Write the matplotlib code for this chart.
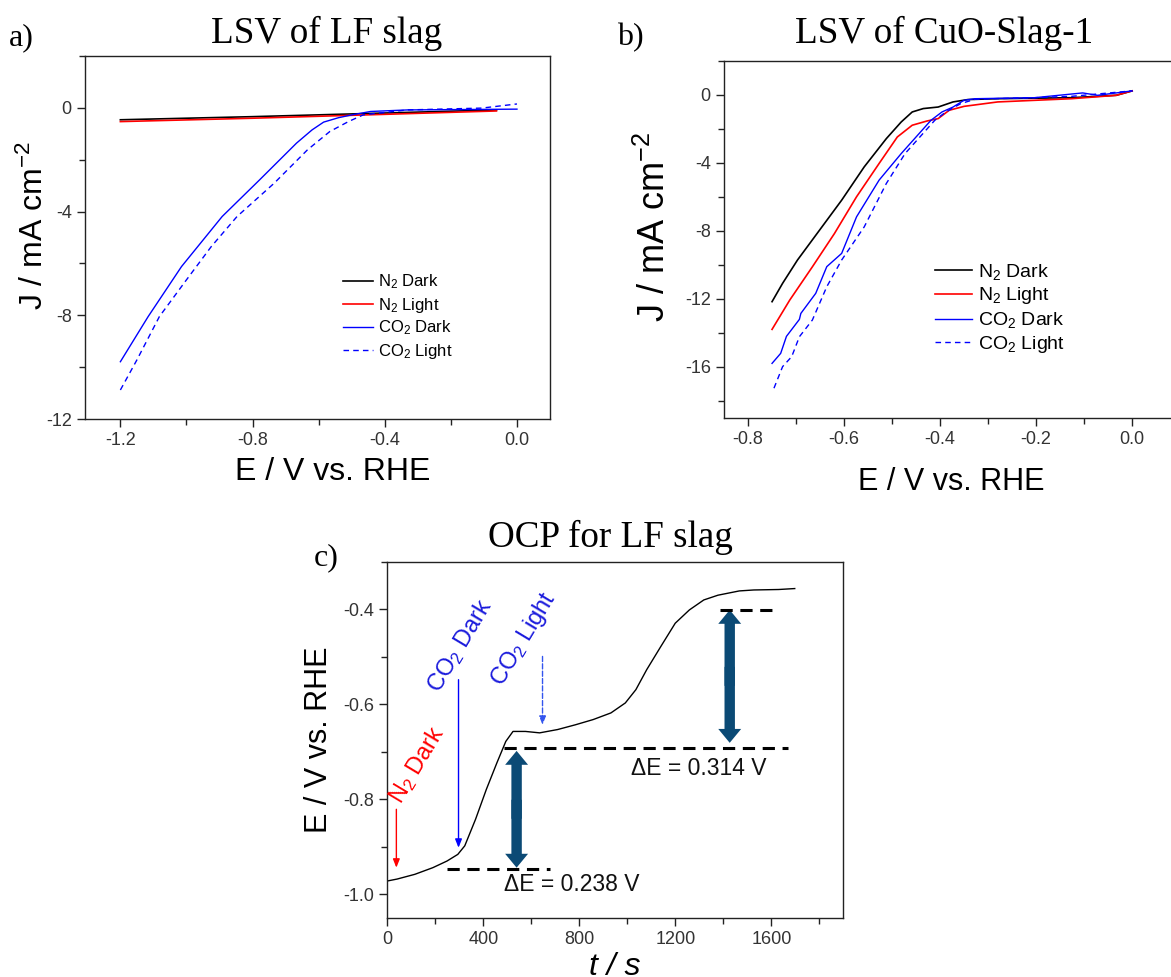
import matplotlib
matplotlib.use("Agg")
import matplotlib.pyplot as plt
from matplotlib.ticker import MultipleLocator
from matplotlib.patches import FancyArrowPatch

plt.rcParams['font.family'] = ['Liberation Sans', 'DejaVu Sans']
plt.rcParams['mathtext.default'] = 'regular'

# ---- panel a: LSV of LF slag ----
a_n2_dark_E = [-1.2, -0.8, -0.4, -0.062]
a_n2_dark_J = [-0.46, -0.34, -0.2, -0.08]
a_n2_light_E = [-1.2, -0.8, -0.4, -0.062]
a_n2_light_J = [-0.53, -0.4, -0.25, -0.12]
a_co2_dark_E = [-1.2, -1.116, -1.015, -0.892, -0.779, -0.667, -0.620, -0.585,
                -0.540, -0.499, -0.443, -0.331, 0.0]
a_co2_dark_J = [-9.79, -8.05, -6.12, -4.19, -2.78, -1.36, -0.85, -0.55,
                -0.38, -0.27, -0.14, -0.08, -0.05]
a_co2_light_E = [-1.2, -1.15, -1.082, -1.004, -0.925, -0.847, -0.735, -0.634,
                 -0.566, -0.510, -0.465, -0.331, -0.107, 0.0]
a_co2_light_J = [-10.88, -9.72, -8.05, -6.70, -5.35, -4.19, -2.91, -1.62,
                 -0.91, -0.53, -0.27, -0.08, -0.01, 0.15]

# ---- panel b: LSV of CuO-Slag-1 ----
b_n2_dark_E = [-0.750, -0.728, -0.697, -0.651, -0.605, -0.558, -0.512, -0.481,
               -0.458, -0.435, -0.404, -0.373, -0.342, -0.280, -0.126, -0.033, 0.0]
b_n2_dark_J = [-12.16, -11.08, -9.71, -7.95, -6.19, -4.23, -2.57, -1.59,
               -1.00, -0.80, -0.71, -0.41, -0.27, -0.22, -0.16, -0.02, 0.24]
b_n2_light_E = [-0.750, -0.713, -0.666, -0.620, -0.574, -0.527, -0.489, -0.458,
                -0.427, -0.404, -0.381, -0.350, -0.280, -0.126, -0.033, 0.0]
b_n2_light_J = [-13.79, -12.06, -10.11, -8.15, -5.99, -4.03, -2.47, -1.78,
                -1.53, -1.39, -0.90, -0.67, -0.41, -0.22, -0.02, 0.24]
b_co2_dark_E = [-0.750, -0.732, -0.720, -0.693, -0.690, -0.659, -0.636, -0.605,
                -0.574, -0.527, -0.481, -0.450, -0.419, -0.396, -0.373, -0.350,
                -0.327, -0.203, -0.103, -0.072, 0.0]
b_co2_dark_J = [-15.79, -15.2, -14.2, -13.2, -12.85, -11.67, -10.1, -9.32,
                -7.17, -5.01, -3.45, -2.47, -1.49, -1.00, -0.71, -0.31,
                -0.22, -0.16, 0.12, -0.02, 0.24]
b_co2_light_E = [-0.746, -0.728, -0.709, -0.693, -0.666, -0.636, -0.605, -0.558,
                 -0.512, -0.473, -0.442, -0.411, -0.388, -0.357, -0.327, -0.203,
                 -0.126, 0.0]
b_co2_light_J = [-17.25, -15.98, -15.39, -14.22, -13.24, -11.28, -9.71, -7.76,
                 -5.21, -3.45, -2.47, -1.49, -1.00, -0.51, -0.25, -0.16,
                 -0.08, 0.24]

# ---- panel c: OCP for LF slag ----
c_t = [0, 40, 114, 189, 248, 293, 322, 367, 412, 456, 493, 523, 575, 634,
       709, 783, 857, 931, 991, 1035, 1080, 1139, 1199, 1258, 1318, 1377,
       1466, 1526, 1630, 1697]
c_E = [-0.972, -0.968, -0.958, -0.944, -0.930, -0.916, -0.898, -0.842, -0.779,
       -0.723, -0.678, -0.657, -0.657, -0.660, -0.653, -0.643, -0.632, -0.618,
       -0.597, -0.569, -0.527, -0.478, -0.429, -0.401, -0.380, -0.370, -0.361,
       -0.359, -0.358, -0.356]

legend_labels = ['N$_2$ Dark', 'N$_2$ Light', 'CO$_2$ Dark', 'CO$_2$ Light']
arrow_blue = '#0b4a75'
tick_col = '#333333'

fig = plt.figure(figsize=(11.71, 9.77), dpi=100)
ax_a = fig.add_axes([0.0726, 0.5711, 0.3971, 0.3716])
ax_b = fig.add_axes([0.6183, 0.5722, 0.3817, 0.3654])
ax_c = fig.add_axes([0.3309, 0.0604, 0.3894, 0.3644])


def style(ax):
    for s in ax.spines.values():
        s.set_color('#222222')
        s.set_linewidth(1.0)
    ax.tick_params(which='both', direction='out', labelsize=13,
                   labelcolor=tick_col, color='#222222', width=1.0)
    ax.tick_params(which='major', length=6)
    ax.tick_params(which='minor', length=4)


# panel a
ax_a.plot(a_n2_dark_E, a_n2_dark_J, color='black', lw=1.2)
ax_a.plot(a_n2_light_E, a_n2_light_J, color='red', lw=1.2)
ax_a.plot(a_co2_dark_E, a_co2_dark_J, color='blue', lw=1.0)
ax_a.plot(a_co2_light_E, a_co2_light_J, color='blue', lw=1.0, ls=(0, (4, 3)))
ax_a.set_xlim(-1.307, 0.1)
ax_a.set_ylim(-12, 2)
ax_a.xaxis.set_minor_locator(MultipleLocator(0.2))
ax_a.yaxis.set_minor_locator(MultipleLocator(2))
ax_a.set_xticks([-1.2, -0.8, -0.4, 0.0])
ax_a.set_xticklabels(['-1.2', '-0.8', '-0.4', '0.0'])
ax_a.set_yticks([0, -4, -8, -12])
ax_a.set_yticklabels(['0', '-4', '-8', '-12'])
style(ax_a)
ax_a.set_xlabel('E / V vs. RHE', fontsize=23)
ax_a.set_ylabel('J / mA cm$^{-2}$', fontsize=23)
ax_a.xaxis.set_label_coords(0.532, -0.105)
ax_a.yaxis.set_label_coords(-0.076, 0.534)
ax_a.legend(legend_labels, loc='center left', bbox_to_anchor=(0.555, 0.282),
            frameon=False, fontsize=12, borderpad=0, borderaxespad=0,
            handlelength=1.8, handletextpad=0.3, labelspacing=0.25)

# panel b
ax_b.plot(b_n2_dark_E, b_n2_dark_J, color='black', lw=1.2)
ax_b.plot(b_n2_light_E, b_n2_light_J, color='red', lw=1.2)
ax_b.plot(b_co2_dark_E, b_co2_dark_J, color='blue', lw=1.0)
ax_b.plot(b_co2_light_E, b_co2_light_J, color='blue', lw=1.0, ls=(0, (4, 3)))
ax_b.set_xlim(-0.85, 0.081)
ax_b.set_ylim(-19, 2)
ax_b.xaxis.set_minor_locator(MultipleLocator(0.1))
ax_b.yaxis.set_minor_locator(MultipleLocator(2))
ax_b.set_xticks([-0.8, -0.6, -0.4, -0.2, 0.0])
ax_b.set_xticklabels(['-0.8', '-0.6', '-0.4', '-0.2', '0.0'])
ax_b.set_yticks([0, -4, -8, -12, -16])
ax_b.set_yticklabels(['0', '-4', '-8', '-12', '-16'])
style(ax_b)
ax_b.spines['right'].set_visible(False)
ax_b.set_xlabel('E / V vs. RHE', fontsize=22)
ax_b.set_ylabel('J / mA cm$^{-2}$', fontsize=26)
ax_b.xaxis.set_label_coords(0.508, -0.137)
ax_b.yaxis.set_label_coords(-0.114, 0.535)
ax_b.legend(legend_labels, loc='center left', bbox_to_anchor=(0.472, 0.307),
            frameon=False, fontsize=14, borderpad=0, borderaxespad=0,
            handlelength=1.9, handletextpad=0.3, labelspacing=0.2)

# panel c
ax_c.plot(c_t, c_E, color='black', lw=1.0)
ax_c.set_xlim(0, 1900)
ax_c.set_ylim(-1.05, -0.30)
ax_c.xaxis.set_minor_locator(MultipleLocator(200))
ax_c.yaxis.set_minor_locator(MultipleLocator(0.1))
ax_c.set_xticks([0, 400, 800, 1200, 1600])
ax_c.set_yticks([-0.4, -0.6, -0.8, -1.0])
ax_c.set_yticklabels(['-0.4', '-0.6', '-0.8', '-1.0'])
style(ax_c)
ax_c.set_xlabel('t / s', fontsize=23, style='italic')
ax_c.set_ylabel('E / V vs. RHE', fontsize=22)
ax_c.xaxis.set_label_coords(0.499, -0.095)
ax_c.yaxis.set_label_coords(-0.118, 0.5)

# reference dashed levels
ax_c.plot([248, 679], [-0.946, -0.946], color='black', lw=2.2, ls=(0, (4, 2.5)))
ax_c.plot([486, 1667], [-0.692, -0.692], color='black', lw=2.2, ls=(0, (4, 2.5)))
ax_c.plot([1385, 1615], [-0.401, -0.401], color='black', lw=2.2, ls=(0, (4, 2.5)))

# fat double arrows (two halves overlapping in the middle)
for tx, y0, y1 in [(538, -0.698, -0.944), (1426, -0.401, -0.681)]:
    ym = (y0 + y1) / 2
    for yend in (y0, y1):
        step = 0.02 if yend < ym else -0.02
        ax_c.add_patch(FancyArrowPatch(
            (tx, ym + step), (tx, yend), color=arrow_blue, lw=0,
            arrowstyle='simple,head_length=10,head_width=16.5,tail_width=7.5',
            mutation_scale=1, shrinkA=0, shrinkB=0))

# event arrows
ax_c.annotate('', xy=(37, -0.944), xytext=(37, -0.821),
              arrowprops=dict(arrowstyle='-|>,head_length=0.5,head_width=0.2',
                              color='red', lw=1.0, shrinkA=0, shrinkB=0))
ax_c.annotate('', xy=(296, -0.902), xytext=(296, -0.548),
              arrowprops=dict(arrowstyle='-|>,head_length=0.5,head_width=0.2',
                              color='blue', lw=1.0, shrinkA=0, shrinkB=0))
ax_c.annotate('', xy=(646, -0.643), xytext=(646, -0.499),
              arrowprops=dict(arrowstyle='-|>,head_length=0.5,head_width=0.2',
                              color='#3355ee', lw=1.0, ls='--',
                              shrinkA=0, shrinkB=0))

ax_c.text(58, -0.811, 'N$_2$ Dark', color='red', fontsize=17, rotation=59,
          rotation_mode='anchor', ha='left', va='baseline')
ax_c.text(215, -0.578, 'CO$_2$ Dark', color='#1a1adc', fontsize=17, rotation=59,
          rotation_mode='anchor', ha='left', va='baseline')
ax_c.text(478, -0.564, 'CO$_2$ Light', color='#1a1adc', fontsize=17, rotation=59,
          rotation_mode='anchor', ha='left', va='baseline')

ax_c.text(486, -0.993, '\u0394E = 0.238 V', fontsize=16.5, color='#111111')
ax_c.text(1013, -0.748, '\u0394E = 0.314 V', fontsize=16.5, color='#111111')

# titles and panel letters
serif = ['Liberation Serif', 'DejaVu Serif']
fig.text(327 / 1171, 1 - 43 / 977, 'LSV of LF slag', family=serif, fontsize=26.7,
         ha='center', va='baseline')
fig.text(944 / 1171, 1 - 43 / 977, 'LSV of CuO-Slag-1', family=serif, fontsize=26.7,
         ha='center', va='baseline')
fig.text(610 / 1171, 1 - 547 / 977, 'OCP for LF slag', family=serif, fontsize=26.7,
         ha='center', va='baseline')
fig.text(9 / 1171, 1 - 45 / 977, 'a)', family=serif, fontsize=23, va='baseline')
fig.text(617 / 1171, 1 - 45 / 977, 'b)', family=serif, fontsize=23, va='baseline')
fig.text(314 / 1171, 1 - 565 / 977, 'c)', family=serif, fontsize=23, va='baseline')

fig.savefig('out.png', dpi=100)
